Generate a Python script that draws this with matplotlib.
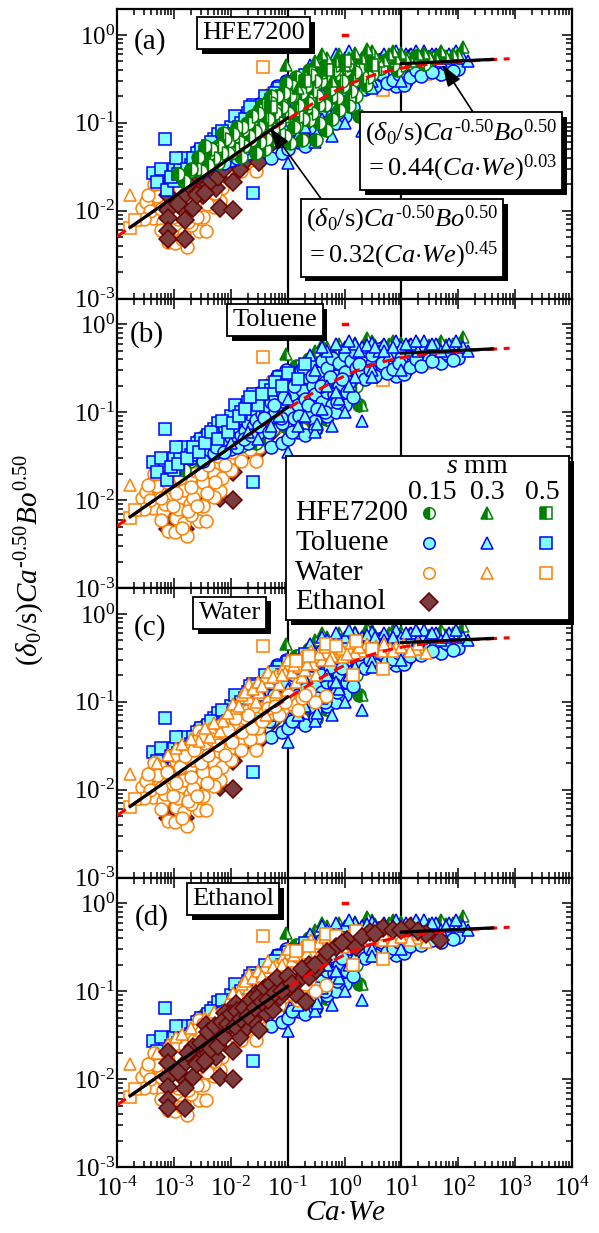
import numpy as np
import matplotlib
matplotlib.use('Agg')
import matplotlib.pyplot as plt
from matplotlib.ticker import LogLocator, NullFormatter, FuncFormatter
import matplotlib.patheffects as pe
from matplotlib.patches import Rectangle

plt.rcParams['font.family'] = ['Liberation Serif', 'DejaVu Serif']
plt.rcParams['mathtext.fontset'] = 'custom'
plt.rcParams['mathtext.rm'] = 'Liberation Serif'
plt.rcParams['mathtext.it'] = 'Liberation Serif:italic'
plt.rcParams['mathtext.bf'] = 'Liberation Serif:bold'

# ---------------- data ----------------
hfe_015_x = [1.2e-3, 1.9e-3, 2.7e-3, 4.3e-3, 7.3e-3, 1.2e-2, 1.65e-2, 2.3e-2, 3.2e-2, 4.2e-2, 6.3e-2, 7.2e-2,
             0.108, 0.14, 0.18, 0.24, 0.32, 0.42, 0.55, 0.72, 0.95, 1.2, 1.6, 2.1, 2.8, 3.6, 6.2, 11, 18, 31, 47,
             0.032, 0.048, 0.083, 0.024, 0.056, 0.028, 0.0153, 0.14, 0.24, 0.32, 0.48, 0.8, 1.2, 0.18, 0.095,
             0.14, 0.24, 0.42, 0.95, 1.6, 4.7, 8.3,
             5.5e-3, 9e-3, 0.013, 0.019, 0.026, 0.036, 0.045, 0.05, 0.065, 0.075, 0.09, 0.12, 0.16, 0.2, 0.22,
             0.28, 0.36, 0.38, 0.5, 0.6, 0.65, 0.85, 1.0, 1.4, 1.8, 2.4, 3.0, 4.0, 5.0, 7.0, 9.0, 13, 22,
             2.5e-3, 3.5e-3, 6e-3, 0.01, 0.04, 0.6, 1.8,
             0.0015, 0.002, 0.003, 0.004, 0.0045, 0.005, 0.006, 0.007, 0.008, 0.009, 0.011, 0.012, 0.014, 0.016,
             0.017, 0.02, 0.021, 0.024, 0.027, 0.03, 0.033, 0.038, 0.042, 0.045, 0.05, 0.055, 0.06, 0.065, 0.07,
             0.08, 0.085, 0.09, 0.1, 0.11, 0.12, 0.13, 0.15, 0.16, 0.17, 0.19, 0.21, 0.23, 0.26, 0.27, 0.3, 0.33,
             0.35, 0.4, 0.45, 0.5, 0.55, 0.7, 0.75, 0.9, 1.1, 1.3, 1.5, 2.2, 2.6, 3.3, 4.3, 6, 10, 16, 25, 35]
hfe_015_y = [0.026, 0.028, 0.041, 0.045, 0.076, 0.07, 0.083, 0.064, 0.09, 0.118, 0.14, 0.076,
             0.059, 0.14, 0.218, 0.18, 0.28, 0.336, 0.237, 0.36, 0.26, 0.18, 0.2, 0.336, 0.437, 0.48, 0.52, 0.54,
             0.57, 0.52, 0.59,
             0.14, 0.18, 0.22, 0.108, 0.064, 0.045, 0.041, 0.091, 0.108, 0.064, 0.083, 0.14, 0.154, 0.064, 0.28,
             0.336, 0.4, 0.437, 0.437, 0.48, 0.48, 0.4,
             0.05, 0.06, 0.09, 0.1, 0.12, 0.16, 0.08, 0.2, 0.1, 0.17, 0.12, 0.2, 0.12, 0.26, 0.15,
             0.23, 0.16, 0.3, 0.3, 0.2, 0.4, 0.3, 0.4, 0.3, 0.42, 0.27, 0.36, 0.42, 0.5, 0.45, 0.55, 0.48, 0.5,
             0.03, 0.055, 0.035, 0.045, 0.05, 0.11, 0.12,
             0.022, 0.03, 0.028, 0.033, 0.05, 0.04, 0.055, 0.045, 0.065, 0.045, 0.075, 0.05, 0.06, 0.09,
             0.055, 0.1, 0.07, 0.12, 0.08, 0.13, 0.06, 0.15, 0.065, 0.11, 0.17, 0.085, 0.13, 0.2, 0.1,
             0.15, 0.22, 0.07, 0.13, 0.2, 0.26, 0.09, 0.16, 0.3, 0.22, 0.11, 0.26, 0.17, 0.35, 0.13, 0.3, 0.2,
             0.1, 0.38, 0.16, 0.33, 0.24, 0.45, 0.19, 0.3, 0.45, 0.23, 0.38, 0.48, 0.33, 0.52, 0.42, 0.55, 0.46,
             0.53, 0.47, 0.55]
hfe_03_x = [0.095, 0.3, 0.5, 0.8, 1.0, 1.5, 2.0, 3.0, 4.0, 6.0, 8.0, 10, 15, 20, 30, 50, 80, 120, 0.2, 0.15, 0.6,
            2.0, 0.4, 0.7, 1.2, 2.5, 3.5, 5, 7, 12, 25, 40, 60, 100]
hfe_03_y = [0.46, 0.5, 0.55, 0.6, 0.45, 0.62, 0.55, 0.65, 0.5, 0.6, 0.55, 0.62, 0.5, 0.6, 0.58, 0.65, 0.6, 0.72,
            0.35, 0.25, 0.3, 0.12, 0.6, 0.5, 0.55, 0.7, 0.58, 0.52, 0.65, 0.55, 0.62, 0.55, 0.58, 0.6]
hfe_05_x = [0.05, 0.2, 0.5, 1.0, 3.0]
hfe_05_y = [0.15, 0.3, 0.4, 0.5, 0.45]

tol_015_x = [0.0025, 0.003, 0.0035, 0.004, 0.005, 0.005, 0.006, 0.007, 0.008, 0.009, 0.010, 0.010, 0.012, 0.012,
             0.014, 0.015, 0.016, 0.018, 0.02, 0.02, 0.022, 0.025, 0.025, 0.028, 0.03, 0.03, 0.035, 0.035, 0.04,
             0.04, 0.045, 0.05, 0.05, 0.055, 0.06, 0.06, 0.07, 0.07, 0.08, 0.08, 0.09, 0.1, 0.1, 0.11, 0.12, 0.13,
             0.14, 0.15, 0.17, 0.18, 0.2, 0.22, 0.25, 0.25, 0.28, 0.3, 0.35, 0.4, 0.4, 0.45, 0.5, 0.5, 0.6, 0.6,
             0.7, 0.8, 0.8, 1.0, 1.0, 1.2, 1.3, 1.5, 1.6, 2, 2, 2.5, 3, 3, 4, 4, 5, 6, 7, 8, 10, 12, 15, 20, 25,
             30, 40, 50, 70, 100, 0.05, 0.08, 0.1, 0.15, 0.3, 0.5, 0.7, 1.0,
             0.002, 0.0028, 0.0032, 0.0045, 0.0055, 0.0065, 0.0075, 0.0085, 0.011, 0.013, 0.013, 0.017, 0.019,
             0.023, 0.027, 0.032, 0.038, 0.043, 0.048, 0.058, 0.065, 0.075, 0.085, 0.095, 0.12, 0.13, 0.16, 0.19,
             0.23, 0.27, 0.33, 0.38, 0.45, 0.55, 0.65, 0.75, 0.9, 1.1, 1.4, 1.8, 2.3, 2.8, 3.5, 4.5, 5.5, 7, 9,
             11, 14, 18, 22, 35, 60, 80, 0.2, 0.3]
tol_015_y = [0.040, 0.035, 0.045, 0.038, 0.050, 0.034, 0.042, 0.055, 0.047, 0.060, 0.038, 0.052, 0.065, 0.045,
             0.070, 0.055, 0.085, 0.062, 0.075, 0.045, 0.095, 0.068, 0.11, 0.082, 0.12, 0.058, 0.095, 0.14, 0.075,
             0.11, 0.16, 0.088, 0.13, 0.19, 0.10, 0.15, 0.12, 0.22, 0.17, 0.075, 0.13, 0.20, 0.10, 0.27, 0.16, 0.085,
             0.22, 0.12, 0.30, 0.18, 0.14, 0.25, 0.10, 0.35, 0.20, 0.16, 0.28, 0.13, 0.38, 0.22, 0.17, 0.32, 0.12,
             0.42, 0.26, 0.20, 0.36, 0.45, 0.29, 0.22, 0.38, 0.48, 0.32, 0.42, 0.27, 0.50, 0.36, 0.45, 0.30, 0.52,
             0.40, 0.33, 0.48, 0.26, 0.42, 0.30, 0.47, 0.36, 0.50, 0.40, 0.46, 0.36, 0.44, 0.41,
             0.04, 0.045, 0.05, 0.06, 0.08, 0.09, 0.1, 0.12,
             0.03, 0.05, 0.028, 0.06, 0.04, 0.07, 0.035, 0.08, 0.07, 0.1, 0.04, 0.05, 0.12,
             0.055, 0.15, 0.07, 0.085, 0.2, 0.06, 0.12, 0.26, 0.085, 0.15, 0.3, 0.06, 0.2, 0.09, 0.32,
             0.12, 0.26, 0.11, 0.2, 0.1, 0.25, 0.16, 0.13, 0.24, 0.17, 0.15, 0.35, 0.24, 0.3, 0.26, 0.36, 0.28,
             0.31, 0.36, 0.27, 0.33, 0.4, 0.34, 0.38, 0.47, 0.39, 0.055, 0.065]
tol_03_x = [0.01, 0.02, 0.03, 0.05, 0.07, 0.1, 0.1, 0.15, 0.2, 0.3, 0.3, 0.4, 0.5, 0.6, 0.8, 1, 1, 1.5, 1.5, 2, 2,
            3, 3, 4, 5, 6, 8, 10, 10, 15, 20, 25, 30, 40, 50, 70, 120, 150,
            0.25, 0.4, 0.7, 1.2, 1.8, 2.5, 3.5, 5, 7, 12, 18, 35, 60, 90, 0.5, 0.7, 1.2, 3, 0.33]
tol_03_y = [0.045, 0.06, 0.05, 0.07, 0.09, 0.035, 0.14, 0.07, 0.09, 0.06, 0.3, 0.11, 0.5, 0.07, 0.14, 0.55, 0.10,
            0.6, 0.25, 0.55, 0.08, 0.62, 0.3, 0.5, 0.6, 0.45, 0.65, 0.55, 0.3, 0.6, 0.5, 0.65, 0.55, 0.6, 0.5, 0.6,
            0.55, 0.5,
            0.45, 0.55, 0.6, 0.65, 0.5, 0.58, 0.55, 0.5, 0.55, 0.6, 0.65, 0.6, 0.55, 0.65, 0.2, 0.17, 0.2, 0.25,
            0.074]
tol_05_x = [4.3e-4, 5e-4, 7.5e-4, 7e-4, 1e-3, 1e-3, 1.3e-3, 1.5e-3, 2e-3, 2.5e-3, 3e-3, 4e-3, 5e-3, 6e-3, 8e-3,
            0.01, 0.012, 0.015, 0.02, 0.025, 0.025, 0.03, 0.04, 0.05, 0.07, 0.1, 0.15, 0.2,
            6e-4, 9e-4, 1.1e-3, 1.2e-3, 1.7e-3, 2.2e-3, 2.8e-3, 3.5e-3, 4.5e-3, 6e-3, 7e-3, 9e-3, 0.011, 0.014,
            0.018, 0.022, 0.035, 0.06, 0.08]
tol_05_y = [0.027, 0.021, 0.017, 0.065, 0.03, 0.022, 0.03, 0.04, 0.033, 0.045, 0.05, 0.055, 0.065, 0.075, 0.07,
            0.09, 0.12, 0.10, 0.13, 0.016, 0.16, 0.12, 0.2, 0.18, 0.25, 0.28, 0.24, 0.35,
            0.03, 0.024, 0.04, 0.026, 0.03, 0.04, 0.035, 0.045, 0.06, 0.05, 0.08, 0.06, 0.075, 0.09,
            0.11, 0.15, 0.16, 0.22, 0.2]

wat_015_x = [2.7e-4, 4.1e-4, 5.7e-4, 4.3e-4, 6.5e-4, 8e-4, 1.05e-3, 1.7e-3, 1.1e-3, 2.8e-3, 3.7e-3, 1.3e-3, 1.9e-3,
             2.5e-3, 4.3e-3, 6.4e-3, 2.8e-3, 4.3e-3, 6.4e-3, 9.6e-3, 1.25e-2, 1.65e-2, 2.1e-2, 2.8e-2, 3.2e-2,
             3.7e-2, 4.8e-2, 6.3e-2, 8.3e-2, 0.12, 0.18, 0.24, 0.48, 1.9e-3, 2.8e-3, 4.9e-3, 8.4e-3, 1.25e-2,
             1.9e-2, 2.5e-2, 1.1e-3, 1.7e-3, 2.5e-3, 4.3e-3, 8.4e-3, 1.4e-2, 5.7e-4, 8.5e-4,
             7e-4, 9e-4, 1.2e-3, 1.5e-3, 1.5e-3, 2.2e-3, 2.2e-3, 3.2e-3, 3.2e-3, 3.5e-3, 5e-3, 5e-3, 5.5e-3, 7e-3,
             7.5e-3, 1e-2, 1.1e-2, 1.5e-2, 1.8e-2, 2.2e-2, 2.6e-2, 3e-2, 4e-2, 5e-2, 7e-2, 0.1, 0.15, 0.3,
             3.3e-4, 3.8e-4, 5e-4, 2e-3,
             3e-4, 3.5e-4, 4.5e-4, 6e-4, 6e-4, 7.5e-4, 9.5e-4, 1e-3, 1.1e-3, 1.3e-3, 1.4e-3, 1.6e-3, 1.8e-3,
             2e-3, 2.3e-3, 2.6e-3, 3e-3, 3.3e-3, 3.8e-3, 4e-3, 4.6e-3, 5.2e-3, 6e-3, 6.8e-3, 8e-3, 9e-3,
             1.05e-2, 1.2e-2, 1.6e-2, 2e-2, 2.4e-2, 3.5e-2, 4.5e-2, 6e-2, 9e-2, 0.2]
wat_015_y = [0.0106, 0.0158, 0.018, 0.0082, 0.0075, 0.0044, 0.0043, 0.0039, 0.0063, 0.0058, 0.0058, 0.0107, 0.009,
             0.0128, 0.0151, 0.0128, 0.026, 0.03, 0.026, 0.03, 0.043, 0.036, 0.051, 0.028, 0.04,
             0.086, 0.1, 0.11, 0.086, 0.094, 0.11, 0.13, 0.117, 0.018, 0.047, 0.05, 0.06, 0.07,
             0.079, 0.06, 0.021, 0.03, 0.036, 0.043, 0.04, 0.056, 0.0127, 0.0116,
             0.009, 0.014, 0.008, 0.013, 0.0055, 0.0105, 0.022, 0.016, 0.0085, 0.034, 0.02, 0.011, 0.036, 0.018,
             0.045, 0.022, 0.052, 0.028, 0.065, 0.038, 0.09, 0.05, 0.065, 0.075, 0.07, 0.12, 0.08, 0.1,
             0.0125, 0.01, 0.0145, 0.0068,
             0.008, 0.015, 0.02, 0.0105, 0.006, 0.016, 0.0085, 0.025, 0.012, 0.018, 0.0048, 0.024, 0.0075,
             0.014, 0.028, 0.0085, 0.02, 0.042, 0.012, 0.025, 0.038, 0.016, 0.032, 0.055, 0.025, 0.048,
             0.035, 0.065, 0.045, 0.07, 0.05, 0.06, 0.085, 0.09, 0.1, 0.12]
wat_03_x = [1.7e-4, 1.1e-3, 1.4e-3, 2.8e-3, 4.3e-3, 6.4e-3, 7.3e-3, 0.0125, 0.021, 0.021, 0.028, 0.032, 0.042,
            0.048, 0.063, 0.063, 0.083, 0.108, 0.14, 0.14, 0.18, 0.21, 0.24, 0.32, 0.32, 0.48, 0.72, 0.95, 1.2,
            2.1, 3.6, 6.2, 11, 18, 27, 0.016, 0.04, 0.07, 0.09, 0.12, 0.16, 0.2, 0.28, 0.4, 0.6, 0.8, 1.5, 2.5,
            4.5, 8, 14,
            5e-4, 8e-4, 2e-3, 3.5e-3, 5e-3, 9e-3, 0.011, 0.014, 0.018, 0.025, 0.03, 0.036, 0.045, 0.055, 0.08,
            0.1, 0.13, 0.18, 0.22, 0.26, 0.35, 0.45, 0.55, 0.7, 0.9, 1.1, 1.3, 1.8, 3, 5, 7, 10, 20]
wat_03_y = [0.015, 0.030, 0.033, 0.036, 0.04, 0.047, 0.06, 0.086, 0.11, 0.158, 0.10, 0.13, 0.07,
            0.17, 0.2, 0.13, 0.245, 0.27, 0.29, 0.17, 0.19, 0.29, 0.35, 0.32, 0.2, 0.36, 0.38, 0.32, 0.41,
            0.38, 0.43, 0.41, 0.45, 0.4, 0.36, 0.12, 0.19, 0.16, 0.21, 0.22, 0.25, 0.23, 0.27, 0.3, 0.33, 0.42,
            0.36, 0.45, 0.38, 0.42, 0.38,
            0.02, 0.025, 0.038, 0.05, 0.058, 0.075, 0.095, 0.09, 0.13, 0.14, 0.17, 0.15, 0.22, 0.19, 0.2,
            0.3, 0.26, 0.32, 0.27, 0.38, 0.35, 0.42, 0.3, 0.45, 0.4, 0.35, 0.47, 0.42, 0.4, 0.45, 0.38, 0.42, 0.45]
wat_05_x = [1.7e-4, 2.1e-4, 0.037, 0.48, 0.72, 1.6, 4.7, 1.4, 0.14, 0.24, 3.0]
wat_05_y = [0.0063, 0.0078, 0.43, 0.45, 0.43, 0.49, 0.236, 0.2, 0.29, 0.33, 0.4]

eth_x = [8e-4, 8e-4, 8e-4, 8e-4, 8e-4, 8e-4, 1.57e-3, 1.57e-3, 1.57e-3, 1.57e-3, 6.4e-3, 0.011,
         3.7e-3, 7.9e-3, 0.0125, 0.019, 0.028, 0.037, 0.048, 0.083, 0.14, 0.21, 0.24, 0.42, 0.72, 1.1, 1.6,
         2.8, 4.7, 7.0, 14, 27, 47,
         2.2e-3, 2.8e-3, 3.7e-3, 4.9e-3, 6.4e-3, 8.4e-3, 0.011, 0.0145, 0.019, 0.025, 0.032, 0.042, 0.056,
         0.073, 0.108, 0.16, 0.24, 0.32, 4.3e-3, 9.7e-3, 0.0165, 0.021, 2.2e-3, 3.3e-3, 5.6e-3,
         1.2e-3, 1.8e-3, 2.5e-3, 3e-3, 3.5e-3, 4e-3, 4.5e-3, 5.2e-3, 6e-3, 7e-3, 7.5e-3, 9e-3, 1e-2, 1.2e-2,
         1.3e-2, 1.5e-2, 1.7e-2, 2e-2, 2.3e-2, 2.7e-2, 3e-2, 3.5e-2, 4e-2, 4.5e-2, 5e-2, 6e-2, 6.5e-2, 8e-2,
         0.1, 0.12, 0.18, 0.3, 0.5, 0.9, 2, 3.5, 10, 20]
eth_y = [0.0204, 0.0151, 0.0102, 0.0082, 0.0058, 0.0047, 0.0151, 0.0098, 0.0079, 0.0047, 0.0106, 0.0101,
         0.041, 0.056, 0.072, 0.072, 0.094, 0.103, 0.094, 0.128, 0.094, 0.076, 0.2, 0.225, 0.32, 0.38, 0.32,
         0.47, 0.52, 0.5, 0.54, 0.45, 0.38,
         0.023, 0.018, 0.021, 0.025, 0.03, 0.036, 0.021, 0.030, 0.039, 0.047, 0.036, 0.056, 0.061,
         0.086, 0.112, 0.133, 0.146, 0.174, 0.03, 0.047, 0.056, 0.072, 0.0106, 0.015, 0.018,
         0.012, 0.02, 0.015, 0.026, 0.016, 0.034, 0.022, 0.04, 0.024, 0.045, 0.03, 0.042, 0.055, 0.04,
         0.06, 0.048, 0.065, 0.052, 0.08, 0.065, 0.085, 0.075, 0.11, 0.08, 0.12, 0.095, 0.14, 0.1,
         0.15, 0.12, 0.18, 0.2, 0.28, 0.35, 0.42, 0.45, 0.5, 0.48]

# correlation coefficients printed on the chart
c_low, n_low = 0.32, 0.45
c_high, n_high = 0.44, 0.03
fit_low_range = [1.7e-4, 0.1]
fit_high_range = [10, 400]
fit_curve_range = [1e-4, 800]
red_mark_x = [0.95, 1.1]
red_mark_y = [1.0, 1.0]
vlines_x = [0.1, 10]

panel_letters = ['(a)', '(b)', '(c)', '(d)']
panel_names = ['HFE7200', 'Toluene', 'Water', 'Ethanol']
x_ticks = [1e-4, 1e-3, 1e-2, 1e-1, 1e0, 1e1, 1e2, 1e3, 1e4]
y_ticks = [1e-3, 1e-2, 1e-1, 1e0]

# ---------------- styles ----------------
GREEN = '#008000'
BLUE = '#0000ff'
CYAN = '#80ffff'
ORANGE = '#ff8000'
BROWN = '#7a3e3e'
MAROON = '#6a0000'
MS = 9.3
MEW = 1.1

styles = {
    'hfe_015': dict(marker='o', mfc=GREEN, mfcalt='white', fillstyle='left', mec=GREEN),
    'hfe_03': dict(marker='^', mfc=GREEN, mfcalt='white', fillstyle='left', mec=GREEN),
    'hfe_05': dict(marker='s', mfc=GREEN, mfcalt='white', fillstyle='left', mec=GREEN),
    'tol_015': dict(marker='o', mfc=CYAN, mec=BLUE),
    'tol_03': dict(marker='^', mfc=CYAN, mec=BLUE),
    'tol_05': dict(marker='s', mfc=CYAN, mec=BLUE),
    'wat_015': dict(marker='o', mfc='white', mec=ORANGE),
    'wat_03': dict(marker='^', mfc='white', mec=ORANGE),
    'wat_05': dict(marker='s', mfc='white', mec=ORANGE),
    'eth': dict(marker='D', mfc=BROWN, mec=MAROON),
}
series = {
    'hfe_015': (hfe_015_x, hfe_015_y), 'hfe_03': (hfe_03_x, hfe_03_y), 'hfe_05': (hfe_05_x, hfe_05_y),
    'tol_015': (tol_015_x, tol_015_y), 'tol_03': (tol_03_x, tol_03_y), 'tol_05': (tol_05_x, tol_05_y),
    'wat_015': (wat_015_x, wat_015_y), 'wat_03': (wat_03_x, wat_03_y), 'wat_05': (wat_05_x, wat_05_y),
    'eth': (eth_x, eth_y),
}
fluids = {
    'hfe': ['hfe_015', 'hfe_03', 'hfe_05'],
    'tol': ['tol_015', 'tol_03', 'tol_05'],
    'wat': ['wat_015', 'wat_03', 'wat_05'],
    'eth': ['eth'],
}
orders = [
    ['wat', 'eth', 'tol', 'hfe'],
    ['eth', 'wat', 'hfe', 'tol'],
    ['eth', 'hfe', 'tol', 'wat'],
    ['hfe', 'tol', 'wat', 'eth'],
]

W, H = 599, 1233
fig = plt.figure(figsize=(W / 100, H / 100), dpi=100)
left_px, right_px, top_px, bot_px = 117, 572, 9, 1167
ph = (bot_px - top_px) / 4

label_pos = [(0.30, 0.917), (0.347, 0.926), (0.248, 0.914), (0.255, 0.926)]
letter_pos = [(0.072, 0.886), (0.066, 0.874), (0.072, 0.862), (0.077, 0.86)]

xx = np.logspace(np.log10(fit_curve_range[0]), np.log10(fit_curve_range[1]), 300)
yy = ((c_low * xx ** n_low) ** -2 + (c_high * xx ** n_high) ** -2) ** -0.5
xl = np.array(fit_low_range)
xh = np.array(fit_high_range)


def shadow(t, off=3.5):
    t.get_bbox_patch().set_path_effects([
        pe.SimplePatchShadow(offset=(off, -off), shadow_rgbFace='black', alpha=1.0), pe.Normal()])


def pow_fmt(v, p):
    e = int(round(np.log10(v)))
    if e < 0:
        return r'$10^{\text{-}%d}$' % (-e)
    return r'$10^{%d}$' % e


axes = []
for i in range(4):
    b = 1 - (top_px + (i + 1) * ph) / H
    ax = fig.add_axes([left_px / W, b, (right_px - left_px) / W, ph / H])
    axes.append(ax)
    ax.set_xscale('log')
    ax.set_yscale('log')
    for fl in orders[i]:
        for key in fluids[fl]:
            sx, sy = series[key]
            ax.plot(sx, sy, ls='none', ms=MS, mew=MEW, **styles[key])
    ax.plot(xx, yy, color='red', lw=2.2, ls=(0, (3.5, 2.2)), zorder=4)
    ax.plot(xl, c_low * xl ** n_low, color='black', lw=2.3, zorder=4.5)
    ax.plot(xh, c_high * xh ** n_high, color='black', lw=2.3, zorder=4.5)
    ax.plot(red_mark_x, red_mark_y, color='red', lw=2.5, zorder=4)
    for vx in vlines_x:
        ax.axvline(vx, color='black', lw=1.6, zorder=1)

    ax.xaxis.set_minor_locator(LogLocator(base=10, subs=np.arange(2, 10), numticks=20))
    ax.yaxis.set_minor_locator(LogLocator(base=10, subs=np.arange(2, 10), numticks=20))
    ax.set_yticks(y_ticks)
    ax.set_xticks(x_ticks)
    ax.yaxis.set_major_formatter(FuncFormatter(pow_fmt))
    ax.yaxis.set_minor_formatter(NullFormatter())
    ax.set_xlim(1e-4, 1e4)
    ax.set_ylim(1e-3, 10 ** 0.295)
    if i == 3:
        ax.xaxis.set_major_formatter(FuncFormatter(pow_fmt))
    else:
        ax.xaxis.set_major_formatter(NullFormatter())
    ax.xaxis.set_minor_formatter(NullFormatter())
    ax.tick_params(which='both', direction='in', top=True, right=True, labelsize=18, width=1.1)
    ax.tick_params(which='major', length=7)
    ax.tick_params(which='minor', length=4)
    ax.tick_params(axis='y', pad=1.5)
    ax.tick_params(axis='x', pad=7)
    for s in ax.spines.values():
        s.set_linewidth(1.6)

    t = ax.text(label_pos[i][0], label_pos[i][1], panel_names[i], transform=ax.transAxes,
                ha='center', va='center', fontsize=19, zorder=8,
                bbox=dict(boxstyle='square,pad=0.2', fc='white', ec='black', lw=1.3))
    shadow(t)
    ax.text(letter_pos[i][0], letter_pos[i][1], panel_letters[i], transform=ax.transAxes,
            ha='center', va='center', fontsize=21, zorder=8)

# annotations in panel (a)
ax = axes[0]
txt1 = r'$(\delta_0/\mathrm{s})Ca^{\text{-}0.50}Bo^{0.50}$' + '\n' + r'${=}0.44(Ca{\cdot}We)^{0.03}$'
txt2 = r'$(\delta_0/\mathrm{s})Ca^{\text{-}0.50}Bo^{0.50}$' + '\n' + r'${=}0.32(Ca{\cdot}We)^{0.45}$'
a1 = ax.annotate(txt1, xy=(52, 0.46), xycoords='data', xytext=(0.756, 0.51), textcoords='axes fraction',
                 ha='center', va='center', multialignment='left', fontsize=19, zorder=8,
                 bbox=dict(boxstyle='square,pad=0.2', fc='white', ec='black', lw=1.3),
                 arrowprops=dict(arrowstyle='-|>,head_length=0.9,head_width=0.3', color='black', lw=1.2,
                                 mutation_scale=15, relpos=(0.58, 1.0), shrinkA=0, shrinkB=0))
shadow(a1)
a2 = ax.annotate(txt2, xy=(0.048, 0.088), xycoords='data', xytext=(0.626, 0.21), textcoords='axes fraction',
                 ha='center', va='center', multialignment='left', fontsize=19, zorder=8,
                 bbox=dict(boxstyle='square,pad=0.2', fc='white', ec='black', lw=1.3),
                 arrowprops=dict(arrowstyle='-|>,head_length=0.9,head_width=0.3', color='black', lw=1.2,
                                 mutation_scale=15, relpos=(0.1, 1.0), shrinkA=0, shrinkB=0))
shadow(a2)

# axis labels
fig.text(30 / W, 1 - 560 / H, r'$(\delta_0/\mathrm{s})Ca^{\text{-}0.50}Bo^{0.50}$', rotation=90,
         ha='center', va='center', fontsize=21)
fig.text(345 / W, 1 - 1213 / H, r'$Ca{\cdot}We$', ha='center', va='center', fontsize=21)

# legend box
lx0, ly0, lx1, ly1 = 286, 456, 569, 620
fig.add_artist(Rectangle(((lx0 + 5) / W, 1 - (ly1 + 5) / H), (lx1 - lx0) / W, (ly1 - ly0) / H,
                         transform=fig.transFigure, fc='black', ec='none', zorder=9))
lax = fig.add_axes([lx0 / W, 1 - ly1 / H, (lx1 - lx0) / W, (ly1 - ly0) / H], zorder=10)
lax.set_xlim(0, 1)
lax.set_ylim(0, 1)
lax.set_xticks([])
lax.set_yticks([])
for s in lax.spines.values():
    s.set_linewidth(1.3)
legend_rows = ['HFE7200', 'Toluene', 'Water', 'Ethanol']
legend_sizes = ['0.15', '0.3', '0.5']
col_x = [0.505, 0.71, 0.919]
head_x = [0.516, 0.71, 0.905]
row_y = [0.652, 0.47, 0.287, 0.11]
lax.text(0.675, 0.933, r'$s$ mm', ha='center', va='center', fontsize=20)
for cx, lab in zip(head_x, legend_sizes):
    lax.text(cx, 0.78, lab, ha='center', va='center', fontsize=20)
row_keys = [fluids['hfe'], fluids['tol'], fluids['wat'], fluids['eth']]
for ry, lab, keys in zip(row_y, legend_rows, row_keys):
    lax.text(0.032, ry, lab, ha='left', va='center', fontsize=21)
    for cx, key in zip(col_x, keys):
        ms = 9 if key == 'eth' else 8.3
        lax.plot([cx], [ry], ls='none', ms=ms, mew=1.1, **styles[key])

fig.savefig('out.png', dpi=100)
